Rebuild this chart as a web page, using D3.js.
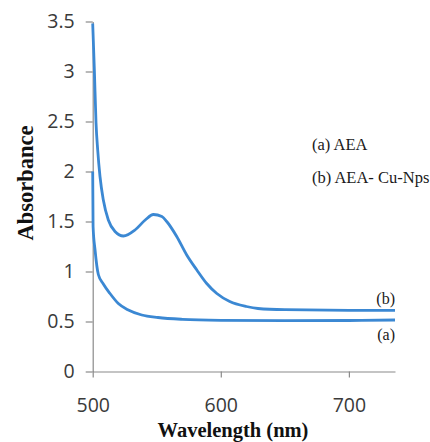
<!DOCTYPE html>
<html>
<head>
<meta charset="utf-8">
<script src="https://cdn.jsdelivr.net/npm/d3@7"></script>
<style>
  body { margin: 0; background: #fff; }
  svg { display: block; }
</style>
</head>
<body>
<div id="chart"></div>
<script>
// (a) AEA
var waveA = [500, 500.3, 501.8, 504.4, 508.3, 513.5, 520, 527.8, 538.3, 551, 570, 600, 650, 700, 736];
var absA  = [2.0, 1.45, 1.22, 0.97, 0.875, 0.78, 0.68, 0.615, 0.565, 0.54, 0.522, 0.512, 0.508, 0.51, 0.515];

// (b) AEA- Cu-Nps
var waveB = [500, 501.3, 502.6, 503.9, 505.7, 508.3, 512.2, 517.4, 524, 533, 541, 547.4, 554, 557.8, 565.6, 573.4, 581.3, 589, 596.9, 607, 620, 629, 650, 700, 736];
var absB  = [3.48, 3.015, 2.485, 2.215, 1.95, 1.715, 1.515, 1.40, 1.355, 1.415, 1.515, 1.57, 1.55, 1.5, 1.35, 1.165, 1.015, 0.88, 0.78, 0.70, 0.65, 0.63, 0.618, 0.612, 0.612];

var yTicks = [0, 0.5, 1, 1.5, 2, 2.5, 3, 3.5];
var xTicks = [500, 600, 700];
var legendLabels = ["(a) AEA", "(b) AEA- Cu-Nps"];
var curveLabels = ["(a)", "(b)"];

var svgWidth = 430;
var svgHeight = 442;

var svg = d3.select("#chart")
  .append("svg")
  .attr("width", svgWidth)
  .attr("height", svgHeight);

var x = d3.scaleLinear().domain([500, 736]).range([92.7, 395]);
var y = d3.scaleLinear().domain([0, 3.5]).range([371.5, 21.5]);

var axisColor = "#8a8a8a";
var tickFont = "'Open Sans', sans-serif";

// y axis
var yAxis = svg.append("g")
  .attr("transform", "translate(" + x(500) + ",0)")
  .call(d3.axisLeft(y).tickValues(yTicks).tickFormat(d3.format("")).tickSize(7).tickSizeOuter(0).tickPadding(11));

// x axis
var xAxis = svg.append("g")
  .attr("transform", "translate(0," + y(0) + ")")
  .call(d3.axisBottom(x).tickValues(xTicks).tickSize(6).tickSizeOuter(0).tickPadding(21));

[yAxis, xAxis].forEach(function(g) {
  g.select(".domain").attr("stroke", axisColor).attr("stroke-width", 1.2);
  g.selectAll(".tick line").attr("stroke", axisColor).attr("stroke-width", 1.2);
  g.selectAll(".tick text")
    .attr("fill", "#3a3a3a")
    .style("font-family", tickFont)
    .style("font-size", "19.5px");
});

// curves
var line = d3.line()
  .x(function(d) { return x(d[0]); })
  .y(function(d) { return y(d[1]); })
  .curve(d3.curveMonotoneX);

var seriesA = waveA.map(function(w, i) { return [w, absA[i]]; });
var seriesB = waveB.map(function(w, i) { return [w, absB[i]]; });

[seriesA, seriesB].forEach(function(s) {
  svg.append("path")
    .datum(s)
    .attr("d", line)
    .attr("fill", "none")
    .attr("stroke", "#3b88d3")
    .attr("stroke-width", 2.8)
    .attr("stroke-linejoin", "round");
});

// axis titles
var serif = "'Liberation Serif', 'Times New Roman', serif";
svg.append("text")
  .attr("transform", "translate(33," + 183 + ") rotate(-90)")
  .attr("text-anchor", "middle")
  .style("font-family", serif)
  .style("font-weight", "bold")
  .style("font-size", "22.5px")
  .attr("fill", "#111")
  .text("Absorbance");

svg.append("text")
  .attr("x", 233)
  .attr("y", 437)
  .attr("text-anchor", "middle")
  .style("font-family", serif)
  .style("font-weight", "bold")
  .style("font-size", "20.5px")
  .attr("fill", "#111")
  .text("Wavelength (nm)");

// legend text
svg.selectAll(".legend")
  .data(legendLabels)
  .enter()
  .append("text")
  .attr("x", 312)
  .attr("y", function(d, i) { return 150 + i * 33; })
  .style("font-family", serif)
  .style("font-size", "16.5px")
  .attr("fill", "#1a1a1a")
  .text(function(d) { return d; });

// curve end labels
svg.append("text")
  .attr("x", 395).attr("y", y(absA[absA.length - 1]) + 20)
  .attr("text-anchor", "end")
  .style("font-family", serif).style("font-size", "16px").attr("fill", "#1a1a1a")
  .text(curveLabels[0]);

svg.append("text")
  .attr("x", 395).attr("y", y(absB[absB.length - 1]) - 6)
  .attr("text-anchor", "end")
  .style("font-family", serif).style("font-size", "16px").attr("fill", "#1a1a1a")
  .text(curveLabels[1]);
</script>
</body>
</html>
